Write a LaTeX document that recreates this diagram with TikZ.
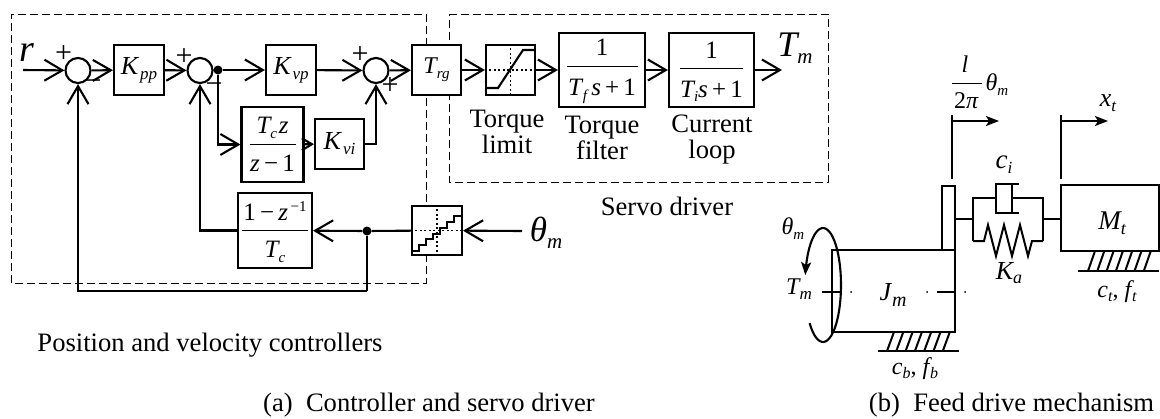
\documentclass[tikz,border=0pt]{standalone}
\usepackage{fontspec}
\setmainfont{Liberation Serif}
\usetikzlibrary{arrows.meta,calc}
% base with italic subscript: {base}{sub}{base size}{sub size}{drop}{gap}
\newcommand\ms[6]{{\fontsize{#3}{#3}\selectfont\itshape #1}\kern#6pt\raisebox{-#5pt}{\fontsize{#4}{#4}\selectfont\itshape #2}}
\newcommand\bz[2]{\fontsize{#1}{#1}\selectfont #2}
% fraction: {width}{num}{den}{num strut}{den strut}
\newcommand\fr[5]{\setlength{\arrayrulewidth}{0.9pt}\begin{tabular}[c]{@{}c@{}}\rule[-10pt]{0pt}{#4pt}\makebox[#1pt]{#2}\\\hline\rule{0pt}{#5pt}#3\end{tabular}}
\tikzset{
 wire/.style={line width=2.1pt},
 arr/.style={wire,-{Straight Barb[length=18pt,width=21pt,line width=2.1pt]}},
 arrs/.style={wire,-{Straight Barb[length=10pt,width=12pt,line width=2.1pt]}},
 block/.style={draw,line width=2.1pt,fill=white,inner sep=0pt,anchor=center},
 sumnode/.style={circle,draw,line width=2.1pt,fill=white,inner sep=0pt,minimum size=25pt},
 junction/.style={circle,fill=black,inner sep=0pt,minimum size=9pt},
 frame/.style={line width=0.9pt,dash pattern=on 8pt off 4pt},
 lab/.style={inner sep=0pt,font=\fontsize{26.6}{26}\selectfont,align=center},
 captext/.style={inner sep=0pt,font=\fontsize{26.6}{26}\selectfont,anchor=base},
 sign/.style={inner sep=0pt,font=\fontsize{30}{30}\selectfont},
 mech/.style={line width=2pt},
 marr/.style={mech,-{Stealth[length=13pt,width=10pt,inset=3pt]}},
 dotl/.style={line width=1.5pt,dash pattern=on 2pt off 2.5pt},
}
\begin{document}
\begin{tikzpicture}[x=1pt,y=-1pt]
\useasboundingbox (0,0) rectangle (1160,418);
% dashed frames
\draw[frame] (11,283) -- (11,14) -- (426,14) -- (426,283) -- cycle;
\draw[frame] (449,14) -- (828,14) -- (828,182) -- (449,182) -- cycle;
% controller
\node[sumnode] (s1) at (78,70.5) {};
\node[sumnode] (s2) at (200,70.5) {};
\node[sumnode] (s3) at (376,70.5) {};
\node[junction] (d1) at (218,70) {};
\node[junction] (d2) at (367,231) {};
\node[block,minimum width=50pt,minimum height=50pt] (kpp) at (139,70) {\ms{K}{pp}{26}{17}{5}{2}};
\node[block,minimum width=50pt,minimum height=50pt] (kvp) at (291,70) {\ms{K}{vp}{26}{17}{5}{2}};
\node[block,minimum width=62pt,minimum height=75pt] (tcz) at (272.5,144.5) {\fr{46}{\ms{T}{c}{25}{15}{5}{0}\,{\fontsize{25}{25}\selectfont\itshape z}}{\bz{25}{\textit{z}\,−\,1}}{30}{27}};
\node[block,minimum width=49pt,minimum height=50pt] (kvi) at (339.5,144) {\ms{K}{vi}{26}{17}{5}{2}};
\node[block,minimum width=74pt,minimum height=75pt] (fb) at (275,230.5) {\fr{66}{\bz{25}{1\,−\,\textit{z}}\raisebox{9pt}{\bz{15}{\,−1}}}{\ms{T}{c}{25}{15}{5}{0}}{32}{26}};
\node[block,minimum width=49pt,minimum height=50pt] (trg) at (436.5,70) {\ms{T}{rg}{24}{15}{5}{0}};
\node[block,minimum width=49pt,minimum height=50pt] (sat) at (510.5,70) {};
\node[block,minimum width=50pt,minimum height=49pt] (qnt) at (437,230.5) {};
\node[block,minimum width=86pt,minimum height=74pt] (tf) at (602,70) {\fr{71}{\bz{25}{1}}{\ms{T}{f}{25}{15}{5}{1}\bz{25}{\,\textit{s}\,+\,1}}{30}{29}};
\node[block,minimum width=85pt,minimum height=74pt] (cl) at (711.5,70) {\fr{63}{\bz{25}{1}}{\ms{T}{i}{25}{15}{4}{0}\bz{25}{\textit{s}\,+\,1}}{30}{29}};
% free ends
\coordinate (rin) at (23,70);
\coordinate (tout) at (782,70);
\coordinate (thin) at (522,231);
\coordinate (corner) at (367,291);
% connectors
\draw[arr] (rin) -- (s1);
\draw[arr] (s1) -- (kpp);
\draw[arr] (kpp) -- (s2);
\draw[wire] (s2) -- (d1);
\draw[arr] (d1) -- (kvp);
\draw[arr] (kvp) -- (s3);
\draw[arr] (s3) -- (trg);
\draw[arr] (trg) -- (sat);
\draw[arr] (sat) -- (tf);
\draw[arr] (tf) -- (cl);
\draw[arr] (cl) -- (tout);
\draw[arr] (d1) |- (tcz);
\draw[arrs] (tcz) -- (kvi);
\draw[arr] (kvi) -| (s3);
\draw[arr] (thin) -- (qnt);
\draw[wire] (qnt) -- (d2);
\draw[arr] (d2) -- (fb);
\draw[arr] (fb) -| (s2);
\draw[wire] (d2) -- (corner);
\draw[arr] (corner) -| (s1);
% saturation and quantizer graphics
\draw[dotl] (sat.west) -- (sat.east);
\draw[dotl] (sat.north) -- (sat.south);
\draw[wire] (487,88) -- (498,88) -- (523,50) -- (534,50);
\draw[dotl] (qnt.west) -- (qnt.east);
\draw[dotl] (qnt.north) -- (qnt.south);
\draw[wire] (413,251) -- (419,251) -- (419,245) -- (426,245) -- (426,239) -- (433,239) -- (433,234) -- (440,234) -- (440,228) -- (447,228) -- (447,222) -- (454,222) -- (454,216) -- (461,216);
% signs
\node[sign] (p1) at (63.5,54) {+};
\node[sign] (m1) at (93,85) {−};
\node[sign] (p2) at (184,57) {+};
\node[sign] (m2) at (214,88) {−};
\node[sign] (p3) at (360,55) {+};
\node[sign] (p4) at (390,86) {+};
% big labels
\node[inner sep=0pt] (lr) at (27,53) {\bz{38}{\textit{r}}};
\node[inner sep=0pt] (ltm) at (795,48) {\ms{T}{m}{36}{21}{7}{0}};
\node[inner sep=0pt] (lth) at (546,233) {\ms{θ}{m}{35}{21}{7}{0}};
% text labels
\node[lab] (t1) at (507,132) {Torque\\limit};
\node[lab] (t2) at (602,138) {Torque\\filter};
\node[lab] (t3) at (712,139.5) {Current\\loop};
\node[captext] (t4) at (667,215) {Servo driver};
\node[captext] (t5) at (210,351) {Position and velocity controllers};
\node[captext] (t6) at (429,411) {(a)\ \ Controller and servo driver};
\node[captext] (t7) at (1011.5,411) {(b)\ \ Feed drive mechanism};
% mechanism
\node[block,line width=2pt,minimum width=123pt,minimum height=82pt] (jm) at (893.5,291) {};
\node[block,line width=2pt,minimum width=13pt,minimum height=64pt] (fl) at (948.5,218) {};
\node[block,line width=2pt,minimum width=98pt,minimum height=66pt] (mt) at (1110,218) {};
\node[inner sep=0pt] (ljm) at (893,295) {\ms{J}{m}{26}{20}{6}{1}};
\node[inner sep=0pt] (lmt) at (1112,223) {\ms{M}{t}{27}{18}{5}{0}};
% axis
\draw[mech] (822,292) -- (841,292);
\draw[mech] (937,292) -- (955,292);
\fill (851,292) circle (1pt) (927,292) circle (1pt) (965,292) circle (1pt);
% torque arrow round the shaft
\draw[line width=2.1pt,-{Stealth[length=13pt,width=10pt,inset=3pt]}] plot[smooth,samples=50,domain=222:530] ({823+18*cos(\x)},{285-57*sin(\x)});
\node[inner sep=0pt] (lth2) at (793,229) {\ms{θ}{m}{24}{15}{5}{0}};
\node[inner sep=0pt] (ltm2) at (799,289) {\ms{T}{m}{24}{17}{5}{0}};
% displacement marks
\coordinate (a1) at (952,115); \coordinate (a2) at (952,179);
\coordinate (a3) at (952,121); \coordinate (a4) at (999,121);
\coordinate (b1) at (1061,115); \coordinate (b2) at (1061,179);
\coordinate (b3) at (1061,121); \coordinate (b4) at (1108,121);
\draw[mech] (a1) -- (a2);
\draw[marr] (a3) -- (a4);
\draw[mech] (b1) -- (b2);
\draw[marr] (b3) -- (b4);
\node[inner sep=0pt] (l1) at (965,64) {\bz{24}{\textit{l}}};
\draw[line width=1pt] (952,83) -- (982,83);
\node[inner sep=0pt] (l2) at (966.5,101) {\bz{24}{2\textit{π}}};
\node[inner sep=0pt] (l3) at (997,85) {\ms{θ}{m}{24}{15}{5}{0}};
\node[inner sep=0pt] (lx) at (1108,103) {\ms{x}{t}{26}{17}{5}{0}};
% damper and spring
\draw[mech] (fl.east |- 0,219) -- (973,219);
\draw[mech] (973,241) -- (973,198) -- (996,198);
\draw[mech] (1019,184) -- (996,184) -- (996,213) -- (1019,213);
\draw[mech] (1012,184) -- (1012,213);
\draw[mech] (1012,198) -- (1043,198) -- (1043,241);
\draw[mech] (1043,219) -- (mt.west |- 0,219);
\draw[mech] (973,241) -- (984,241) -- (988,225) -- (996,256) -- (1004,225) -- (1012,256) -- (1020,225) -- (1028,256) -- (1032,241) -- (1043,241);
\node[inner sep=0pt] (lci) at (1004,165) {\ms{c}{i}{27}{17}{5}{0}};
\node[inner sep=0pt] (lka) at (1009,273) {\ms{K}{a}{26}{18}{4}{0}};
% ground
\draw[mech] (878,351) -- (959,351);
\foreach \i in {0,...,6} \draw[mech] ({887+9.3*\i},351) -- ({894+9.3*\i},332);
\draw[mech] (1078,271) -- (1159,271);
\foreach \i in {0,...,6} \draw[mech] ({1088+9.3*\i},271) -- ({1095+9.3*\i},251);
\node[inner sep=0pt] (lcb) at (915,369) {\ms{c}{b}{24}{16}{4}{0}\bz{24}{,\ }\ms{f}{b}{24}{16}{4}{1}};
\node[inner sep=0pt] (lct) at (1117,292) {\ms{c}{t}{24}{16}{4}{0}\bz{24}{,\ }\ms{f}{t}{24}{16}{4}{1}};
\end{tikzpicture}
\end{document}
